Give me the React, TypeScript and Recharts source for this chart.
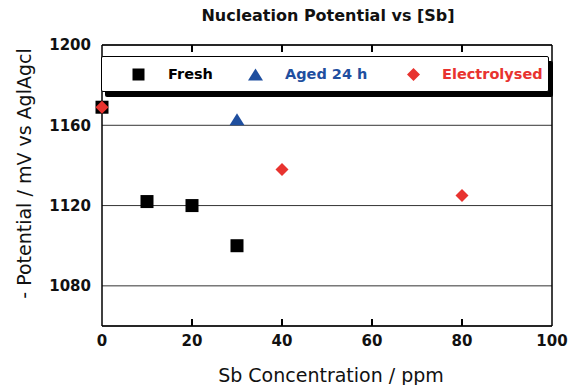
import { ScatterChart, Scatter, XAxis, YAxis, CartesianGrid, ReferenceLine } from "recharts";

const FRESH_X = [0, 10, 20, 30];
const FRESH_Y = [1169, 1122, 1120, 1100];
const AGED_X = [30];
const AGED_Y = [1163];
const ELEC_X = [0, 40, 80];
const ELEC_Y = [1169, 1138, 1125];

const X_TICKS = [0, 20, 40, 60, 80, 100];
const Y_TICKS = [1080, 1120, 1160, 1200];
const X_DOMAIN: [number, number] = [0, 100];
const Y_DOMAIN: [number, number] = [1060, 1200];

const SERIES_NAMES = ["Fresh", "Aged 24 h", "Electrolysed"];

const BLACK = "#000000";
const BLUE = "#1f4f9f";
const RED = "#e8332f";

const toPoints = (xs: number[], ys: number[]) => xs.map((x, i) => ({ x, y: ys[i] }));

const fresh = toPoints(FRESH_X, FRESH_Y);
const aged = toPoints(AGED_X, AGED_Y);
const elec = toPoints(ELEC_X, ELEC_Y);

// inner x ticks, marked inward on the bottom and top frame edges
const innerTicks = X_TICKS.filter((t) => t > X_DOMAIN[0] && t < X_DOMAIN[1]);
const bottomMarks = innerTicks.map((x) => ({ x, y: Y_DOMAIN[0] }));
const topMarks = innerTicks.map((x) => ({ x, y: Y_DOMAIN[1] }));

function SquareDot({ cx, cy }: any) {
  return <rect x={cx - 6.5} y={cy - 6.5} width={13} height={13} fill={BLACK} />;
}

function TriangleDot({ cx, cy }: any) {
  return (
    <polygon
      points={`${cx},${cy - 6} ${cx + 7.5},${cy + 6} ${cx - 7.5},${cy + 6}`}
      fill={BLUE}
    />
  );
}

function DiamondDot({ cx, cy }: any) {
  return (
    <polygon
      points={`${cx},${cy - 6.5} ${cx + 6.5},${cy} ${cx},${cy + 6.5} ${cx - 6.5},${cy}`}
      fill={RED}
    />
  );
}

function UpMark({ cx, cy }: any) {
  return <rect x={cx - 1} y={cy - 7} width={2} height={7} fill="#000" />;
}

function DownMark({ cx, cy }: any) {
  return <rect x={cx - 1} y={cy} width={2} height={7} fill="#000" />;
}

function LegendBox() {
  const marks = [
    <svg width={13} height={13}><rect x={0.5} y={0.5} width={12} height={12} fill={BLACK} /></svg>,
    <svg width={15} height={13}><polygon points="7.5,0.5 15,12.5 0,12.5" fill={BLUE} /></svg>,
    <svg width={13} height={13}><polygon points="6.5,0 13,6.5 6.5,13 0,6.5" fill={RED} /></svg>,
  ];
  const colors = [BLACK, BLUE, RED];
  const markLeft = [30, 146, 305];
  const textLeft = [66, 183, 340];
  return (
    <div
      style={{
        position: "absolute",
        left: 101,
        top: 56,
        width: 446,
        height: 34,
        border: "1.5px solid #000",
        background: "#fff",
        boxShadow: "4px 5px 0 #000",
        borderRadius: 2,
      }}
    >
      {SERIES_NAMES.map((name, i) => (
        <div key={name}>
          <div style={{ position: "absolute", left: markLeft[i], top: 11, lineHeight: 0 }}>{marks[i]}</div>
          <div
            style={{
              position: "absolute",
              left: textLeft[i],
              top: 8,
              fontSize: 14.5,
              fontWeight: "bold",
              color: colors[i],
              lineHeight: "18px",
            }}
          >
            {name}
          </div>
        </div>
      ))}
    </div>
  );
}

export default function App() {
  const tickStyle = { fontSize: 15, fontWeight: "bold", fill: "#111" };
  return (
    <div
      style={{
        position: "absolute",
        left: 0,
        top: 0,
        width: 572,
        height: 385,
        background: "#fff",
        fontFamily: "'DejaVu Sans', sans-serif",
      }}
    >
      <div
        style={{
          position: "absolute",
          left: 102,
          top: 6,
          width: 452,
          textAlign: "center",
          fontSize: 16,
          fontWeight: "bold",
          lineHeight: "20px",
          color: "#111",
        }}
      >
        Nucleation Potential vs [Sb]
      </div>
      <ScatterChart width={572} height={385} margin={{ top: 45, right: 20, bottom: 0, left: 0 }}>
        <CartesianGrid vertical={false} stroke="#333" strokeWidth={1} />
        <XAxis
          type="number"
          dataKey="x"
          domain={X_DOMAIN}
          ticks={X_TICKS}
          height={59}
          tick={tickStyle}
          tickLine={false}
          tickSize={0}
          tickMargin={9}
          axisLine={{ stroke: "#000", strokeWidth: 1.5 }}
          label={{
            value: "Sb Concentration / ppm",
            position: "insideBottom",
            offset: 3,
            dx: 4,
            style: { fontSize: 19, fill: "#111" },
          }}
        />
        <YAxis
          type="number"
          dataKey="y"
          domain={Y_DOMAIN}
          ticks={Y_TICKS}
          width={102}
          tick={tickStyle}
          tickLine={false}
          tickSize={0}
          tickMargin={11}
          axisLine={{ stroke: "#000", strokeWidth: 1.5 }}
          label={{
            value: "- Potential / mV vs AglAgcl",
            angle: -90,
            position: "center",
            dx: -27,
            dy: -12,
            style: { fontSize: 19, fill: "#111", textAnchor: "middle" },
          }}
        />
        <ReferenceLine y={1200} stroke="#000" strokeWidth={1.5} />
        <ReferenceLine x={100} stroke="#000" strokeWidth={1.5} />
        <Scatter data={bottomMarks} shape={UpMark} legendType="none" isAnimationActive={false} />
        <Scatter data={topMarks} shape={DownMark} legendType="none" isAnimationActive={false} />
        <Scatter name={SERIES_NAMES[0]} data={fresh} shape={SquareDot} isAnimationActive={false} />
        <Scatter name={SERIES_NAMES[1]} data={aged} shape={TriangleDot} isAnimationActive={false} />
        <Scatter name={SERIES_NAMES[2]} data={elec} shape={DiamondDot} isAnimationActive={false} />
      </ScatterChart>
      <LegendBox />
    </div>
  );
}
